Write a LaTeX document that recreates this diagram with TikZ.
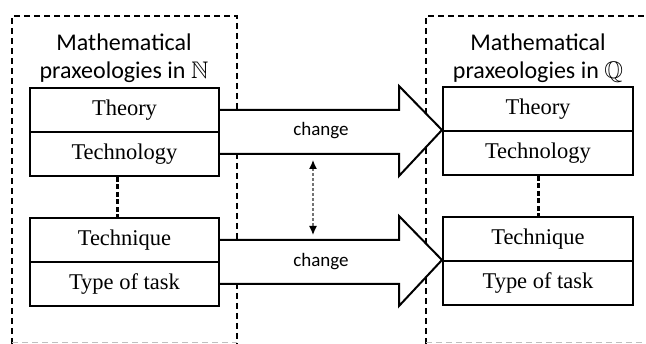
\documentclass[tikz,border=0pt]{standalone}
\usepackage{fontspec}
\usepackage{amssymb}
\setmainfont{Liberation Serif}
\newfontfamily\labelfont{Carlito}
\usetikzlibrary{arrows.meta}

\begin{document}
\begin{tikzpicture}[x=1pt, y=-1pt]

\useasboundingbox (0,0) rectangle (646,344);

\tikzset{
    layer box/.style={
        draw=black, line width=2pt,
        rectangle, inner sep=0pt,
        minimum width=189pt, minimum height=44pt,
        font=\fontsize{22.5}{27}\selectfont
    },
    prax label/.style={
        align=center, inner sep=0pt,
        font=\labelfont\fontsize{24}{28.5}\selectfont
    },
    frame/.style={
        draw=black, line width=1.5pt, dash pattern=on 6pt off 4pt
    },
    frame bottom/.style={
        draw=black!25, line width=1pt, dash pattern=on 6pt off 4pt
    },
    change arrow/.style={
        draw=black, line width=2pt, fill=white, line join=miter
    },
    change label/.style={
        inner sep=0pt, font=\labelfont\fontsize{19}{23}\selectfont
    },
    level link/.style={
        draw=black, line width=3pt, dash pattern=on 5pt off 2.5pt
    },
    relation/.style={
        draw=black!55, line width=1.3pt, dash pattern=on 3pt off 2pt,
        {Latex[length=9pt, width=8pt, color=black]}-{Latex[length=9pt, width=8pt, color=black]}
    }
}

% Dashed frames
\draw[frame] (12,344) -- (12,16) -- (237,16) -- (237,344);
\draw[frame] (426,344) -- (426,16) -- (646,16);
\draw[frame bottom] (12,343) -- (237,343);
\draw[frame bottom] (426,343) -- (646,343);

% Titles
\node[prax label] (titleN) at (124,58) {Mathematical\\praxeologies in $\mathbb{N}$};
\node[prax label] (titleQ) at (538,58) {Mathematical\\praxeologies in $\mathbb{Q}$};

% Praxeologies in N
\node[layer box] (theoryN) at (124.5,110) {Theory};
\node[layer box] (technologyN) at (124.5,154) {Technology};
\node[layer box] (techniqueN) at (124.5,240) {Technique};
\node[layer box] (taskN) at (124.5,284) {Type of task};

% Praxeologies in Q
\node[layer box, minimum width=190pt] (theoryQ) at (538,109) {Theory};
\node[layer box, minimum width=190pt] (technologyQ) at (538,153) {Technology};
\node[layer box, minimum width=190pt] (techniqueQ) at (538,239) {Technique};
\node[layer box, minimum width=190pt] (taskQ) at (538,283) {Type of task};

% Links between the levels
\draw[level link] ([xshift=-7.5pt]technologyN.south) -- ([xshift=-7.5pt]techniqueN.north);
\draw[level link] (technologyQ.south) -- (techniqueQ.north);

% Change arrows
\coordinate (tipA) at (technologyQ.north west);
\coordinate (headA) at ([xshift=-43pt]tipA);
\draw[change arrow] (theoryN.east) -- (headA |- theoryN.east) -- (headA |- theoryQ.north)
    -- (tipA) -- (headA |- technologyQ.south) -- (headA |- technologyN.east) -- (technologyN.east);
\node[change label] (changeA) at (321,131) {change};

\coordinate (tipB) at (taskQ.north west);
\coordinate (headB) at ([xshift=-43pt]tipB);
\draw[change arrow] (techniqueN.east) -- (headB |- techniqueN.east) -- (headB |- techniqueQ.north)
    -- (tipB) -- (headB |- taskQ.south) -- (headB |- taskN.east) -- (taskN.east);
\node[change label] (changeB) at (321,262) {change};

% Relation between the two changes
\coordinate (relTop) at (313,160);
\coordinate (relBottom) at (313,235);
\draw[relation] (relTop) -- (relBottom);

\end{tikzpicture}
\end{document}
